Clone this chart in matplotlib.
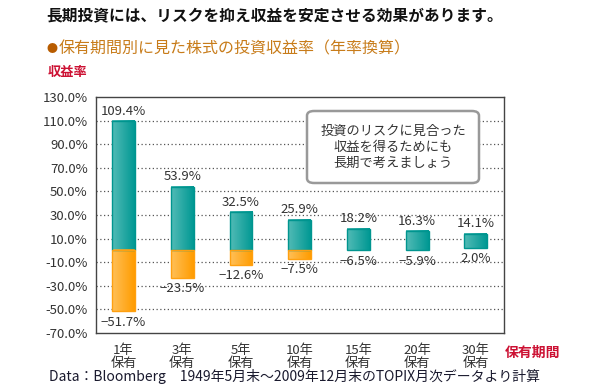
import numpy as np
import matplotlib.pyplot as plt
from matplotlib.patches import FancyBboxPatch, Rectangle
from matplotlib.colors import LinearSegmentedColormap

plt.rcParams['font.family'] = ['Noto Sans CJK JP', 'DejaVu Sans']

# Data: annualised return by holding period (TOPIX)
periods = ['1年\n保有', '3年\n保有', '5年\n保有', '10年\n保有', '15年\n保有', '20年\n保有', '30年\n保有']
max_ret = [109.4, 53.9, 32.5, 25.9, 18.2, 16.3, 14.1]
min_ret = [-51.7, -23.5, -12.6, -7.5, -6.5, -5.9, 2.0]
# bottom of the bar as drawn in the original (15/20-year bars stop at 0)
bar_low = [-51.7, -23.5, -12.6, -7.5, 0.0, 0.0, 2.0]
max_labels = ['109.4%', '53.9%', '32.5%', '25.9%', '18.2%', '16.3%', '14.1%']
min_labels = ['−51.7%', '−23.5%', '−12.6%', '−7.5%', '−6.5%', '−5.9%', '2.0%']
yticks = np.arange(-70, 131, 20)

teal = LinearSegmentedColormap.from_list('teal', ['#52bbb6', '#009893'])
orange = LinearSegmentedColormap.from_list('orange', ['#ffc058', '#ff9c00'])
grad = np.linspace(0, 1, 64).reshape(1, -1)

fig = plt.figure(figsize=(5.95, 3.9), dpi=100)
ax = fig.add_axes([96/595, 1-333/390, 408/595, 236/390])

x = np.arange(len(periods))
w = 0.39


def gbar(x0, y0, y1, cmap, edge):
    ax.imshow(grad, cmap=cmap, aspect='auto', extent=(x0 - w/2, x0 + w/2, y0, y1),
              zorder=3, interpolation='bilinear')
    ax.add_patch(Rectangle((x0 - w/2, y0), w, y1 - y0, fill=False,
                           edgecolor=edge, lw=1, zorder=4))


for i in x:
    top = max_ret[i]
    low = bar_low[i]
    gbar(i, max(low, 0), top, teal, '#00958f')
    if low < 0:
        gbar(i, low, 0, orange, '#ffa010')
    ax.annotate(max_labels[i], (i, top), xytext=(0, 2.5), textcoords='offset points',
                ha='center', va='bottom', fontsize=9.5, color='#333333')
    ax.annotate(min_labels[i], (i, low), xytext=(0, -3),
                textcoords='offset points', ha='center', va='top',
                fontsize=9.5, color='#333333')

ax.set_xlim(-0.47, 6.48)
ax.set_ylim(-70, 130)
ax.set_yticks(yticks)
ax.set_yticklabels([f'{v:.1f}%' for v in yticks], fontsize=9.5, color='#333333')
ax.set_xticks(x)
ax.set_xticklabels(periods, fontsize=9.5, color='#333333', linespacing=0.95)
ax.tick_params(length=0, pad=6)
ax.tick_params(axis='x', pad=8)
for v in yticks[1:-1]:
    ax.axhline(v, color='#555555', lw=0.9, ls=(0, (1, 2)), zorder=1)
for s in ax.spines.values():
    s.set_color('#444444')
    s.set_linewidth(1)

# speech box
box = FancyBboxPatch((307/595, 1-183/390), 172/595, 72/390,
                     boxstyle='round,pad=0,rounding_size=0.012',
                     transform=fig.transFigure, facecolor='white',
                     edgecolor='#999999', lw=1.8, zorder=5)
fig.patches.append(box)
fig.text(393/595, 1-147/390, '投資のリスクに見合った\n収益を得るためにも\n長期で考えましょう',
         ha='center', va='center', fontsize=9.5, color='#333333', linespacing=1.3, zorder=6)

fig.text(46/595, 1-15/390, '長期投資には、リスクを抑え収益を安定させる効果があります。',
         fontsize=11.3, fontweight='bold', color='#111111', va='center')
fig.text(52.5/595, 1-49/390, '●', fontsize=8, color='#b85c00', ha='center', va='center')
fig.text(59/595, 1-49/390, '保有期間別に見た株式の投資収益率（年率換算）',
         fontsize=11.5, color='#c87c1a', va='center')
fig.text(48/595, 1-72/390, '収益率', fontsize=9.5, fontweight='bold', color='#cc1133', va='center')
fig.text(505/595, 1-353/390, '保有期間', fontsize=10, fontweight='bold', color='#cc1133', va='center')
fig.text(49/595, 1-377/390, 'Data：Bloomberg　1949年5月末～2009年12月末のTOPIX月次データより計算',
         fontsize=10, color='#1a1a2e', va='center')

fig.savefig('out.png', dpi=100)
